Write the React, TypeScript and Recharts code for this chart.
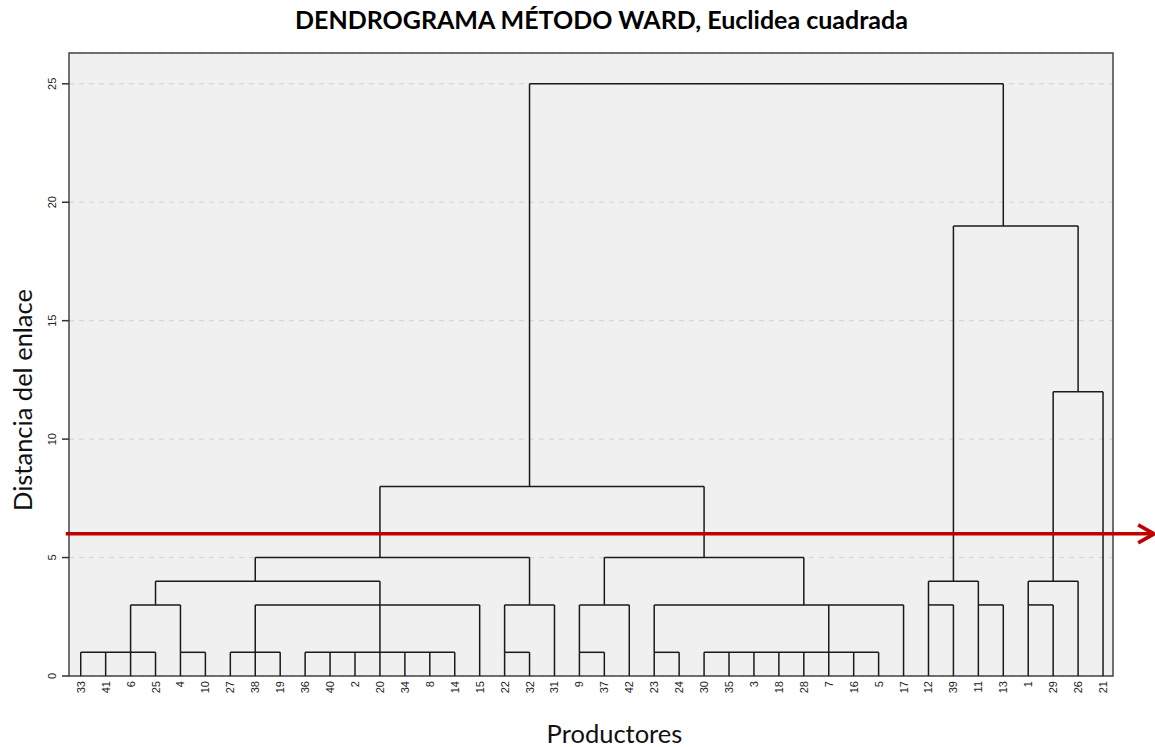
import React from 'react';
import { ComposedChart, XAxis, YAxis, CartesianGrid, ReferenceLine, ReferenceArea } from 'recharts';

// leaf order along the x axis
const leaves = [
  '33', '41', '6', '25', '4', '10', '27', '38', '19', '36', '40', '2', '20', '34', '8', '14', '15',
  '22', '32', '31', '9', '37', '42', '23', '24', '30', '35', '3', '18', '28', '7', '16', '5', '17',
  '12', '39', '11', '13', '1', '29', '26', '21',
];

const yTicks = [0, 5, 10, 15, 20, 25];
const cutHeight = 6;

// each merge: height, horizontal span (leaf positions), legs as [position, bottom height]
type Merge = { h: number; from: number; to: number; legs: [number, number][] };

const merges: Merge[] = [
  { h: 1, from: 0, to: 3, legs: [[0, 0], [1, 0], [2, 0], [3, 0]] },
  { h: 1, from: 4, to: 5, legs: [[4, 0], [5, 0]] },
  { h: 1, from: 6, to: 8, legs: [[6, 0], [7, 0], [8, 0]] },
  { h: 1, from: 9, to: 15, legs: [[9, 0], [10, 0], [11, 0], [12, 0], [13, 0], [14, 0], [15, 0]] },
  { h: 1, from: 17, to: 18, legs: [[17, 0], [18, 0]] },
  { h: 1, from: 20, to: 21, legs: [[20, 0], [21, 0]] },
  { h: 1, from: 23, to: 24, legs: [[23, 0], [24, 0]] },
  { h: 1, from: 25, to: 32, legs: [[25, 0], [26, 0], [27, 0], [28, 0], [29, 0], [30, 0], [31, 0], [32, 0]] },
  { h: 3, from: 2, to: 4, legs: [[2, 1], [4, 1]] },
  { h: 3, from: 7, to: 16, legs: [[7, 1], [12, 1], [16, 0]] },
  { h: 3, from: 17, to: 19, legs: [[17, 1], [19, 0]] },
  { h: 3, from: 20, to: 22, legs: [[20, 1], [22, 0]] },
  { h: 3, from: 23, to: 33, legs: [[23, 1], [30, 1], [33, 0]] },
  { h: 3, from: 34, to: 35, legs: [[34, 0], [35, 0]] },
  { h: 3, from: 36, to: 37, legs: [[36, 0], [37, 0]] },
  { h: 3, from: 38, to: 39, legs: [[38, 0], [39, 0]] },
  { h: 4, from: 3, to: 12, legs: [[3, 3], [12, 3]] },
  { h: 4, from: 34, to: 36, legs: [[34, 3], [36, 3]] },
  { h: 4, from: 38, to: 40, legs: [[38, 3], [40, 0]] },
  { h: 5, from: 7, to: 18, legs: [[7, 4], [18, 3]] },
  { h: 5, from: 21, to: 29, legs: [[21, 3], [29, 3]] },
  { h: 8, from: 12, to: 25, legs: [[12, 5], [25, 5]] },
  { h: 12, from: 39, to: 41, legs: [[39, 4], [41, 0]] },
  { h: 19, from: 35, to: 40, legs: [[35, 4], [40, 12]] },
  { h: 25, from: 18, to: 37, legs: [[18, 8], [37, 19]] },
];

const X_DOMAIN: [number, number] = [-0.47, 41.4];
const Y_DOMAIN: [number, number] = [0, 26.3];

const segments = merges.flatMap((m) => [
  [{ x: m.from, y: m.h }, { x: m.to, y: m.h }],
  ...m.legs.map(([x, y0]) => [{ x, y: y0 }, { x, y: m.h }]),
]);

const data = leaves.map((label, i) => ({ i, label }));

const LeafTick = (props: any) => {
  const { x, payload } = props;
  return (
    <text
      transform={`translate(${x + 4},681) rotate(-90)`}
      textAnchor="end"
      fontSize={11}
      fontFamily="Liberation Sans, Arial, sans-serif"
      fill="#222"
    >
      {leaves[payload.value]}
    </text>
  );
};

const HeightTick = (props: any) => {
  const { y, payload } = props;
  return (
    <text
      transform={`translate(56,${y}) rotate(-90)`}
      textAnchor="middle"
      fontSize={11}
      fontFamily="Liberation Sans, Arial, sans-serif"
      fill="#222"
    >
      {payload.value}
    </text>
  );
};

const RedArrow = (props: any) => {
  const { x1, y1, x2 } = props;
  return (
    <g>
      <line x1={x1} y1={y1} x2={x2 - 2} y2={y1} stroke="#c00000" strokeWidth={3.5} />
      <polyline
        points={`${x2 - 16},${y1 - 9} ${x2},${y1} ${x2 - 16},${y1 + 9}`}
        fill="none"
        stroke="#c00000"
        strokeWidth={3.5}
      />
    </g>
  );
};

export default function App() {
  return (
    <div style={{ position: 'absolute', left: 0, top: 0, width: 1155, height: 747, background: '#fff' }}>
      <div
        style={{
          position: 'absolute', left: 0, width: 1155, top: 4, textAlign: 'center',
          fontFamily: 'Lato, sans-serif', fontWeight: 700, fontSize: 25, color: '#000', paddingLeft: 48,
          boxSizing: 'border-box',
        }}
      >
        DENDROGRAMA MÉTODO WARD, Euclidea cuadrada
      </div>
      <ComposedChart
        width={1155}
        height={747}
        data={data}
        margin={{ top: 53, right: 42, bottom: 0, left: 0 }}
      >
        <CartesianGrid vertical={false} stroke="#d2d2d2" strokeDasharray="5 5" fill="#f0f0f0" />
        <XAxis
          dataKey="i"
          type="number"
          domain={X_DOMAIN}
          ticks={leaves.map((_, i) => i)}
          interval={0}
          tickLine={false}
          axisLine={false}
          height={71}
          allowDataOverflow
          tick={<LeafTick />}
        />
        <YAxis
          type="number"
          domain={Y_DOMAIN}
          ticks={yTicks}
          width={69}
          tickSize={7}
          axisLine={false}
          tickLine={{ stroke: '#333', strokeWidth: 1.5 }}
          allowDataOverflow
          tick={<HeightTick />}
        />
        <ReferenceArea
          x1={X_DOMAIN[0]}
          x2={X_DOMAIN[1]}
          y1={Y_DOMAIN[0]}
          y2={Y_DOMAIN[1]}
          fill="none"
          stroke="#444"
          strokeWidth={1.5}
          ifOverflow="visible"
        />
        {segments.map((seg, k) => (
          <ReferenceLine
            key={k}
            segment={seg}
            stroke="#1a1a1a"
            strokeWidth={1.5}
            ifOverflow="visible"
          />
        ))}
        <ReferenceLine
          segment={[{ x: -0.6, y: cutHeight }, { x: 43.05, y: cutHeight }]}
          ifOverflow="visible"
          shape={<RedArrow />}
        />
      </ComposedChart>
      <div
        style={{
          position: 'absolute', left: 0, width: 1155, top: 718, textAlign: 'center',
          fontFamily: 'Lato, sans-serif', fontSize: 25.5, color: '#111', paddingLeft: 74, boxSizing: 'border-box',
        }}
      >
        Productores
      </div>
      <div
        style={{
          position: 'absolute', left: 22, top: 400, width: 0, height: 0,
        }}
      >
        <div
          style={{
            position: 'absolute', transform: 'translate(-50%, -50%) rotate(-90deg)', whiteSpace: 'nowrap',
            fontFamily: 'Lato, sans-serif', fontSize: 25.5, color: '#111',
          }}
        >
          Distancia del enlace
        </div>
      </div>
    </div>
  );
}
